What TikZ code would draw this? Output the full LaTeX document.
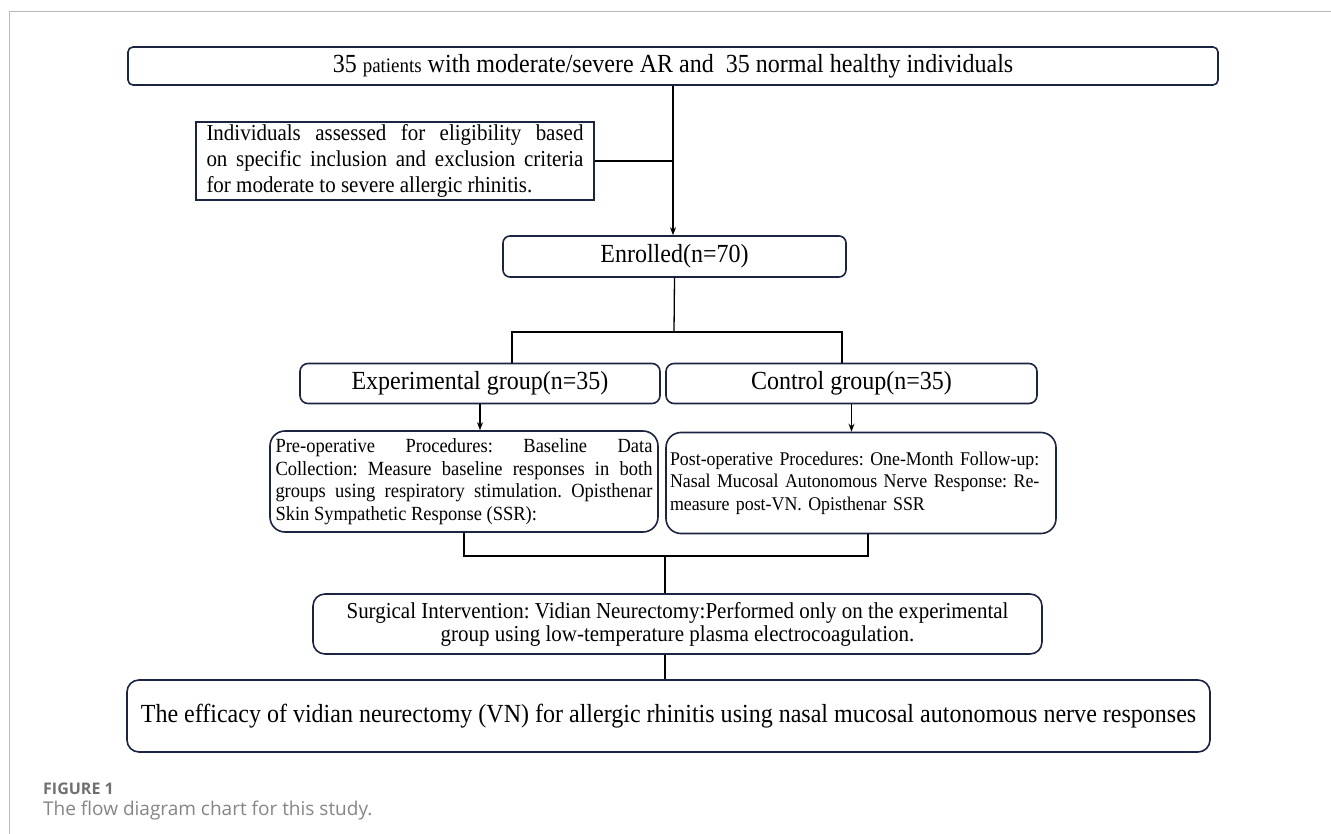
\documentclass[tikz,border=0pt]{standalone}
\usepackage{fontspec}
\setmainfont{Liberation Serif}[FakeStretch=0.92]
\newfontfamily\capfont{Open Sans}
\usetikzlibrary{arrows.meta}
\definecolor{boxnavy}{HTML}{1B2440}
\definecolor{capgray}{HTML}{707070}
\frenchspacing

\begin{document}
\begin{tikzpicture}[x=1pt, y=-1pt,
        box/.style={draw=boxnavy, line width=1.6pt, rounded corners=#1, inner sep=0pt},
        box/.default=8pt,
        link/.style={line width=1.3pt, black},
        arrowlink/.style={link, -{Stealth[length=8pt, width=6pt]}},
        bigtext/.style={font=\fontsize{26.1}{30}\selectfont},
        midtext/.style={font=\fontsize{22.8}{26}\selectfont},
        smalltext/.style={font=\fontsize{20.1}{22.5}\selectfont}]

        \useasboundingbox (0,0) rectangle (1331,834);
        \draw[gray!55, line width=1pt] (9,834) -- (9,12) -- (1331,12);

        \node[box=5pt, bigtext, minimum width=1090pt, minimum height=38pt] (top) at (673,66)
        {35 {\fontsize{20.6}{24}\selectfont patients} with moderate/severe AR and~ 35 normal healthy individuals};

        \node[draw=boxnavy, line width=1.6pt, midtext, minimum width=398pt, minimum height=78pt,
        text width=377pt, align=justify, inner sep=0pt] (elig) at (395,161)
        {Individuals assessed for eligibility based\linebreak on specific inclusion and exclusion criteria\linebreak for moderate to severe allergic rhinitis.};

        \node[box=7pt, bigtext, minimum width=343pt, minimum height=41pt] (enrolled) at (674.5,256.5) {Enrolled(n=70)};

        \node[box, bigtext, minimum width=360pt, minimum height=40pt] (exp) at (480,383.5) {Experimental group(n=35)};
        \node[box, bigtext, minimum width=371pt, minimum height=40pt] (ctrl) at (851.5,383.5) {Control group(n=35)};

        \node[box=15pt, smalltext, minimum width=388pt, minimum height=101pt,
        text width=377pt, align=justify] (pre) at (464,481.5)
        {Pre-operative Procedures: Baseline Data\linebreak Collection: Measure baseline responses in both\linebreak groups using respiratory stimulation. Opisthenar\linebreak Skin Sympathetic Response (SSR):};

        \node[box=15pt, font=\fontsize{19.4}{22.5}\selectfont, minimum width=390pt, minimum height=101pt,
        text width=382pt, align=left] (post) at (861,483)
        {Post-operative Procedures: One-Month Follow-up:\\ Nasal Mucosal Autonomous Nerve Response: Re-\\ measure post-VN. Opisthenar SSR};

        \node[box=12pt, minimum width=729pt, minimum height=60pt, align=center,
        font=\fontsize{22.8}{23}\selectfont] (surg) at (677.5,624)
        {Surgical Intervention: Vidian Neurectomy:Performed only on the experimental\\ group using low-temperature plasma electrocoagulation.};

        \node[box=12pt, bigtext, minimum width=1083pt, minimum height=72pt] (final) at (668.5,716)
        {The efficacy of vidian neurectomy (VN) for allergic rhinitis using nasal mucosal autonomous nerve responses};

        \coordinate (split) at (674,332);
        \coordinate (splitL) at (512,332);
        \coordinate (splitR) at (842,332);
        \coordinate (joinL) at (464,556);
        \coordinate (joinR) at (868,556);
        \coordinate (join) at (665,556);

        \draw[arrowlink] (top.south) -- (top.south |- enrolled.north);
        \draw[link] (elig.east) -- (elig.east -| top.south);
        \draw[link] (enrolled.south) -- (split);
        \draw[link] (splitL |- exp.north) -- (splitL) -- (splitR) -- (splitR |- ctrl.north);
        \draw[arrowlink] (exp.south) -- (exp.south |- pre.north);
        \draw[arrowlink] (ctrl.south) -- (ctrl.south |- post.north);
        \draw[link] (joinL |- pre.south) -- (joinL) -- (joinR) -- (joinR |- post.south);
        \draw[link] (join) -- (join |- surg.north);
        \draw[link] (join |- surg.south) -- (join |- final.north);

        \node[anchor=west, text=capgray, font=\capfont\bfseries\fontsize{16}{18}\selectfont, inner sep=0pt] (figlabel) at (43,789) {FIGURE 1};
        \node[anchor=west, text=capgray!85, font=\capfont\fontsize{19}{22}\selectfont, inner sep=0pt] (figcaption) at (43,811) {The flow diagram chart for this study.};

    \end{tikzpicture}
\end{document}
